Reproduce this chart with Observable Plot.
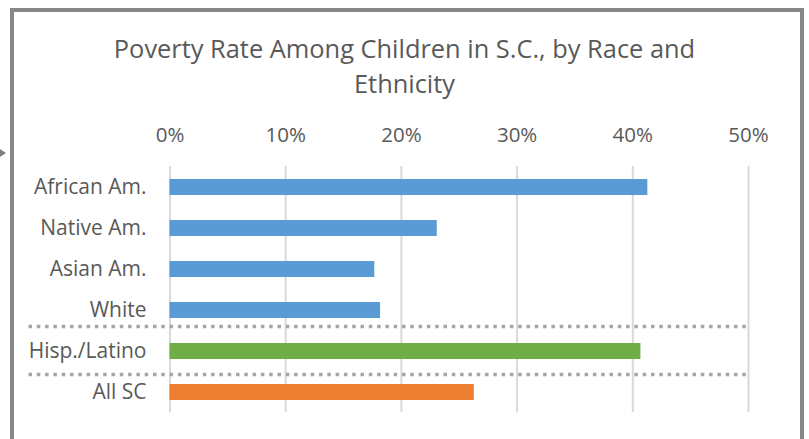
<!DOCTYPE html>
<html>
<head>
<meta charset="utf-8">
<script src="https://cdn.jsdelivr.net/npm/d3@7"></script>
<script src="https://cdn.jsdelivr.net/npm/@observablehq/plot@0.6"></script>
<style>
  body { margin: 0; background: #fff; }
  #wrap { position: relative; width: 809px; height: 439px; overflow: hidden; font-family: "Open Sans", sans-serif; }
  #frame { position: absolute; left: 10px; top: 8px; width: 786px; height: 460px; border: 4px solid #878787; box-sizing: content-box; }
  #title { position: absolute; left: 0; width: 809px; top: 31px; text-align: center; color: #595959; font-size: 25.4px; line-height: 35px; }
  #arrow { position: absolute; left: 0; top: 149px; width: 0; height: 0; border-top: 4px solid transparent; border-bottom: 4px solid transparent; border-left: 6px solid #7f7f7f; }
  #chart { position: absolute; left: 0; top: 0; }
</style>
</head>
<body>
<div id="wrap">
  <div id="frame"></div>
  <div id="arrow"></div>
  <div id="title">Poverty Rate Among Children in S.C., by Race and<br>Ethnicity</div>
  <div id="chart"></div>
</div>
<script>
const categories = ["African Am.", "Native Am.", "Asian Am.", "White", "Hisp./Latino", "All SC"];
const rates = [41.3, 23.1, 17.7, 18.2, 40.7, 26.3];
const groups = ["race", "race", "race", "race", "ethnicity", "all"];
const xTicks = [0, 10, 20, 30, 40, 50];

const data = categories.map((c, i) => ({category: c, rate: rates[i], group: groups[i]}));

const chart = Plot.plot({
  width: 809,
  height: 439,
  marginLeft: 169.5,
  marginRight: 61,
  marginTop: 166,
  marginBottom: 27,
  style: {fontFamily: "'Open Sans', sans-serif", fontSize: "20px", color: "#595959", background: "transparent", overflow: "visible"},
  x: {domain: [0, 50], ticks: xTicks},
  y: {domain: categories, paddingInner: 0.61, paddingOuter: 0.305},
  color: {domain: ["race", "ethnicity", "all"], range: ["#5b9bd5", "#70ad47", "#ed7d31"]},
  marks: [
    Plot.ruleX(xTicks, {stroke: "#d9d9d9", strokeWidth: 2, strokeOpacity: 1}),
    Plot.barX(data, {x: "rate", y: "category", fill: "group"}),
    Plot.ruleY(["Hisp./Latino"], {x1: 0, x2: 50, dy: -25, insetLeft: -141, insetRight: -2, stroke: "#a6a6a6", strokeWidth: 3.5, strokeDasharray: "3.5,4.8"}),
    Plot.ruleY(["All SC"], {x1: 0, x2: 50, dy: -18, insetLeft: -141, insetRight: -2, stroke: "#a6a6a6", strokeWidth: 3.5, strokeDasharray: "3.5,4.8"}),
    Plot.axisX({anchor: "top", ticks: xTicks, tickSize: 0, tickPadding: 25, tickFormat: d => d + "%", label: null, fill: "#595959", fontSize: 20.5}),
    Plot.axisY({anchor: "left", tickSize: 0, tickPadding: 23.5, label: null, fill: "#595959", fontSize: 21})
  ]
});
document.getElementById("chart").appendChild(chart);
</script>
</body>
</html>
